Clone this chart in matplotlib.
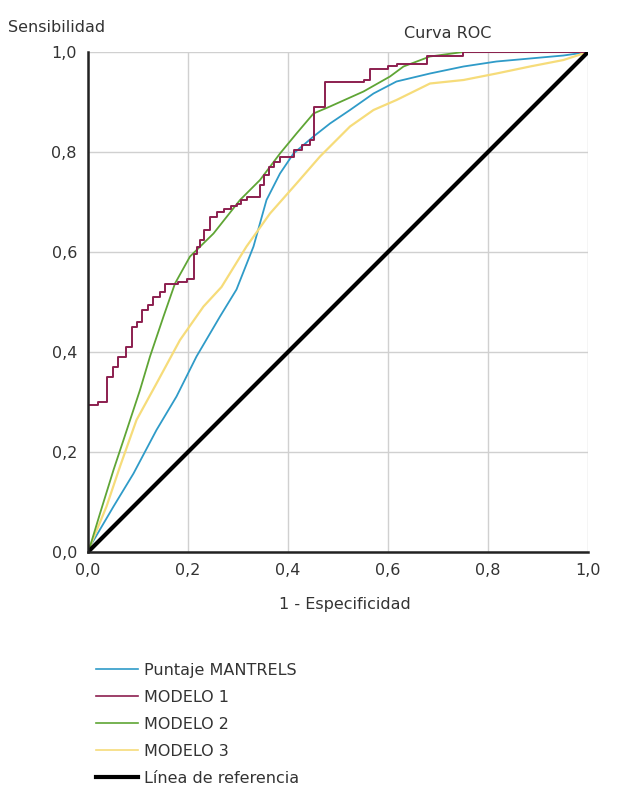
import matplotlib.pyplot as plt
from matplotlib.lines import Line2D

# ROC curves
mantrels_x = [0, 0.004, 0.051, 0.091, 0.137, 0.177, 0.217, 0.264, 0.297, 0.331, 0.357,
              0.384, 0.411, 0.451, 0.484, 0.524, 0.571, 0.617, 0.684, 0.751, 0.817,
              0.884, 0.951, 1.0]
mantrels_y = [0, 0.011, 0.091, 0.157, 0.244, 0.311, 0.391, 0.471, 0.525, 0.611, 0.704,
              0.757, 0.797, 0.831, 0.857, 0.884, 0.917, 0.941, 0.957, 0.971, 0.981,
              0.987, 0.993, 1.0]

modelo1_x = [0, 0, 0.02, 0.037, 0.05, 0.06, 0.075, 0.087, 0.097, 0.107, 0.12, 0.13,
             0.143, 0.154, 0.18, 0.197, 0.211, 0.218, 0.224, 0.232, 0.244, 0.258,
             0.271, 0.285, 0.297, 0.305, 0.317, 0.344, 0.352, 0.361, 0.372, 0.384,
             0.411, 0.428, 0.444, 0.451, 0.474, 0.551, 0.564, 0.6, 0.617, 0.677,
             0.75, 1.0]
modelo1_y = [0, 0.295, 0.3, 0.35, 0.37, 0.39, 0.41, 0.45, 0.46, 0.485, 0.495, 0.51,
             0.52, 0.537, 0.541, 0.547, 0.597, 0.61, 0.624, 0.645, 0.671, 0.68,
             0.687, 0.692, 0.697, 0.705, 0.711, 0.735, 0.755, 0.771, 0.78, 0.791,
             0.804, 0.815, 0.824, 0.891, 0.941, 0.944, 0.967, 0.972, 0.977, 0.993,
             1.0, 1.0]

modelo2_x = [0, 0.004, 0.024, 0.051, 0.071, 0.104, 0.124, 0.151, 0.174, 0.204, 0.251,
             0.304, 0.344, 0.384, 0.417, 0.451, 0.484, 0.551, 0.604, 0.631, 0.684,
             0.75, 1.0]
modelo2_y = [0, 0.011, 0.077, 0.164, 0.224, 0.324, 0.391, 0.471, 0.537, 0.591, 0.637,
             0.704, 0.744, 0.797, 0.837, 0.877, 0.891, 0.921, 0.951, 0.971, 0.991,
             1.0, 1.0]

modelo3_x = [0, 0.004, 0.037, 0.064, 0.097, 0.137, 0.184, 0.231, 0.267, 0.317, 0.364,
             0.417, 0.464, 0.484, 0.524, 0.571, 0.617, 0.684, 0.751, 0.817, 0.884,
             0.951, 1.0]
modelo3_y = [0, 0.011, 0.091, 0.171, 0.264, 0.337, 0.424, 0.491, 0.53, 0.611, 0.677,
             0.737, 0.791, 0.811, 0.851, 0.884, 0.904, 0.937, 0.944, 0.957, 0.971,
             0.984, 1.0]

ticks = [0, 0.2, 0.4, 0.6, 0.8, 1.0]
tick_labels = ["0,0", "0,2", "0,4", "0,6", "0,8", "1,0"]

c_blue = "#2f9bc8"
c_maroon = "#8c1f4f"
c_green = "#5fa535"
c_yellow = "#f6dc7a"

W, H = 619, 794
fig = plt.figure(figsize=(W / 100, H / 100), dpi=100)
ax = fig.add_axes([88 / W, 1 - 552 / H, 500 / W, 500 / H])

ax.plot(mantrels_x, mantrels_y, color=c_blue, lw=1.3)
ax.plot(modelo3_x, modelo3_y, color=c_yellow, lw=1.6)
ax.plot(modelo2_x, modelo2_y, color=c_green, lw=1.3)
ax.plot(modelo1_x, modelo1_y, color=c_maroon, lw=1.4, drawstyle="steps-post")
ax.plot([0, 1], [0, 1], color="black", lw=3)

ax.set_xlim(0, 1)
ax.set_ylim(0, 1)
ax.set_xticks(ticks)
ax.set_xticklabels(tick_labels)
ax.set_yticks(ticks)
ax.set_yticklabels(tick_labels)
ax.tick_params(length=0, labelsize=11.5, colors="#333333", pad=8)
ax.grid(True, color="#d0d0d0", lw=1)
ax.set_axisbelow(True)
for side in ["top", "right"]:
    ax.spines[side].set_visible(False)
for side in ["left", "bottom"]:
    ax.spines[side].set_linewidth(1.8)
    ax.spines[side].set_color("#222222")

fig.text(8 / W, 1 - 27 / H, "Sensibilidad", fontsize=11.5, color="#333333",
         va="center", ha="left")
fig.text(448 / W, 1 - 33 / H, "Curva ROC", fontsize=11.5, color="#333333",
         va="center", ha="center")
fig.text(345 / W, 1 - 605 / H, "1 - Especificidad", fontsize=11.5, color="#333333",
         va="center", ha="center")

handles = [
    Line2D([], [], color=c_blue, lw=1.2),
    Line2D([], [], color=c_maroon, lw=1.2),
    Line2D([], [], color=c_green, lw=1.2),
    Line2D([], [], color=c_yellow, lw=1.2),
    Line2D([], [], color="black", lw=3),
]
labels = ["Puntaje MANTRELS", "MODELO 1", "MODELO 2", "MODELO 3", "Línea de referencia"]
fig.legend(handles, labels, loc="upper left", bbox_to_anchor=(88 / W, 1 - 655 / H),
           frameon=False, fontsize=11.5, handlelength=2.6, handletextpad=0.4,
           labelspacing=0.75, borderpad=0, labelcolor="#333333")

fig.savefig("out.png", dpi=100, facecolor="white")
